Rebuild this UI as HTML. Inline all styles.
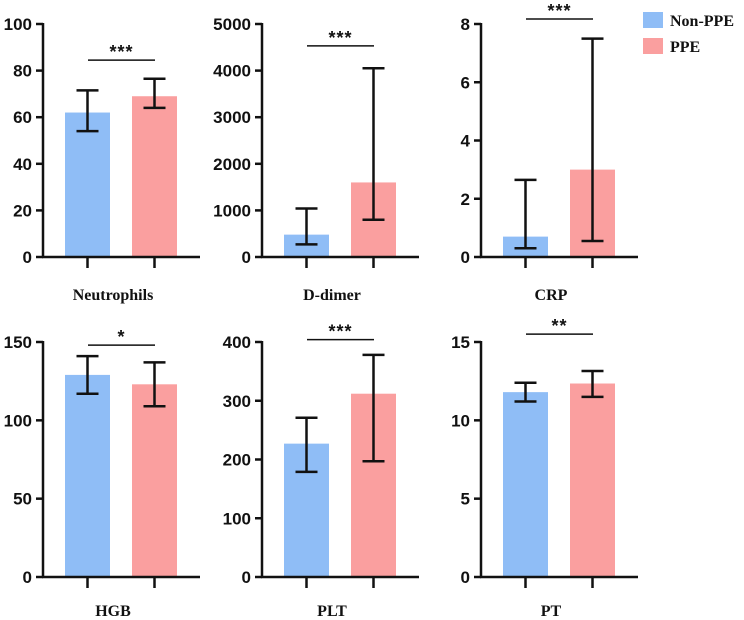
<!DOCTYPE html>
<html><head><meta charset="utf-8"><style>
body{margin:0;background:#fff;width:744px;height:620px;overflow:hidden}
svg{display:block}
</style></head><body>
<svg id="chart" width="744" height="620" font-family="Liberation Sans, sans-serif"></svg>
<script>
const panelNames = ["Neutrophils","D-dimer","CRP","HGB","PLT","PT"];
const yMax = [100,5000,8,150,400,15];
const yStep = [20,1000,2,50,100,5];
const nonPpeMean = [62,480,0.7,129,227,11.8];
const nonPpeLow = [54,270,0.3,117,179,11.2];
const nonPpeHigh = [71.5,1040,2.65,141,271,12.4];
const ppeMean = [69,1600,3.0,123,312,12.35];
const ppeLow = [64,800,0.55,109,197,11.5];
const ppeHigh = [76.5,4050,7.5,137,378,13.15];
const sigLabels = ["***","***","***","*","***","**"];
const sigLevel = [84.5,4530,8.17,148,404,15.5];

const svg = document.getElementById('chart');
const NS = "http://www.w3.org/2000/svg";
function mk(tag, attrs, parent){const e=document.createElementNS(NS,tag);for(const k in attrs)e.setAttribute(k,attrs[k]);(parent||svg).appendChild(e);return e;}
const axisX=[43,262,481];
const rowTop=[24,342], rowBase=[257,577], labelY=[301,617];
const colors=["#8fbdf6","#fa9f9f"];

panelNames.forEach((name,i)=>{
  const col=i%3,row=Math.floor(i/3);
  const ax=axisX[col], top=rowTop[row], base=rowBase[row];
  const y=v=>base-(v/yMax[i])*(base-top);
  const g=mk('g',{});
  
  
  const bars=[[nonPpeMean[i],nonPpeLow[i],nonPpeHigh[i]],[ppeMean[i],ppeLow[i],ppeHigh[i]]];
  bars.forEach((b,j)=>{
    const x0=ax+22+j*67, cx=x0+22.5;
    const r=mk('rect',{x:x0,y:y(b[0]),width:45,height:base-y(b[0]),fill:colors[j]},g);
    
    
    const e=mk('g',{stroke:'#111','stroke-width':2.5},g);
    
    
    mk('line',{x1:cx,x2:cx,y1:y(b[1]),y2:y(b[2])},e);
    mk('line',{x1:cx-11,x2:cx+11,y1:y(b[1]),y2:y(b[1])},e);
    mk('line',{x1:cx-11,x2:cx+11,y1:y(b[2]),y2:y(b[2])},e);
    mk('line',{x1:cx,x2:cx,y1:base,y2:base+11},e);
  });
  const a=mk('g',{stroke:'#111','stroke-width':2.5},g);
  
  
  mk('line',{x1:ax,x2:ax,y1:top-1,y2:base+1},a);
  mk('line',{x1:ax-1,x2:ax+157,y1:base,y2:base},a);
  for(let v=0;v<=yMax[i]+1e-9;v+=yStep[i]){
    mk('line',{x1:ax-7,x2:ax,y1:y(v),y2:y(v)},a);
    const t=mk('text',{x:ax-11,y:y(v)+6,'text-anchor':'end','font-size':17,'font-weight':'bold',fill:'#111'},g);
    
    
    t.textContent=v;
  }
  const sy=y(sigLevel[i]);
  const sl=mk('line',{x1:ax+45,x2:ax+112,y1:sy,y2:sy,stroke:'#111','stroke-width':1.5},g);
  
  
  const st=mk('text',{x:ax+78.5,y:sy-2,'text-anchor':'middle','font-size':18,'font-weight':'bold',fill:'#111','letter-spacing':'1'},g);
  
  
  st.textContent=sigLabels[i];
  const lt=mk('text',{x:ax+70,y:labelY[row]-1,'text-anchor':'middle','font-size':16,'font-weight':'bold','font-family':'Liberation Serif, serif',fill:'#111'},g);
  
  
  lt.textContent=name;
});
const lg=mk('g',{});


[["Non-PPE",12],["PPE",38]].forEach((d,j)=>{
  const r=mk('rect',{x:643,y:d[1],width:20,height:16,fill:colors[j]},lg);
  
  
  const t=mk('text',{x:670,y:d[1]+14,'font-size':16,'font-weight':'bold','font-family':'Liberation Serif, serif',fill:'#111'},lg);
  
  
  t.textContent=d[0];
});
</script>
</body></html>
